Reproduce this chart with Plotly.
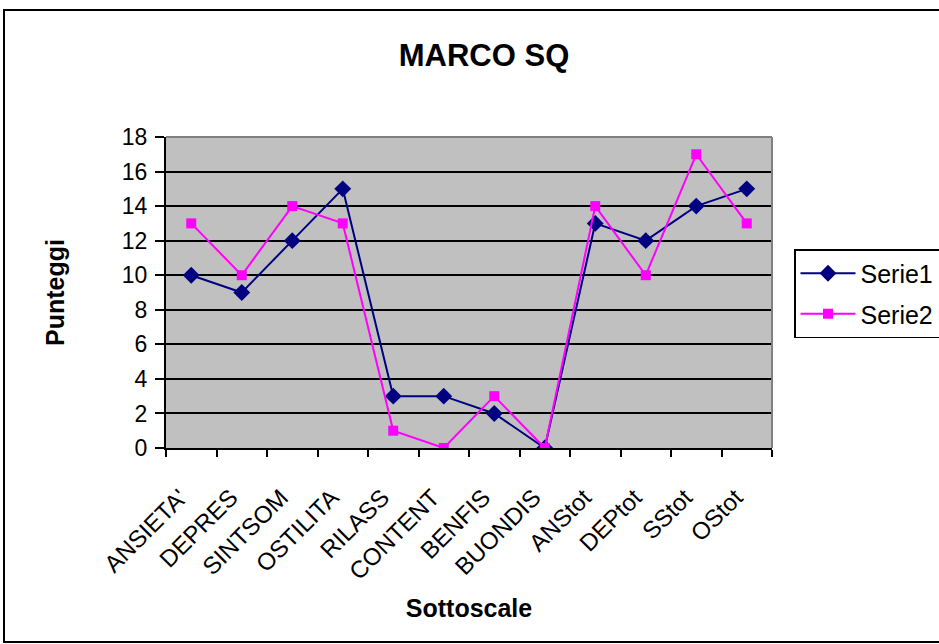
import plotly.graph_objects as go

# Subscale names and scores for the two series
categorie = ["ANSIETA'", "DEPRES", "SINTSOM", "OSTILITA", "RILASS", "CONTENT",
             "BENFIS", "BUONDIS", "ANStot", "DEPtot", "SStot", "OStot"]
serie1 = [10, 9, 12, 15, 3, 3, 2, 0, 13, 12, 14, 15]
serie2 = [13, 10, 14, 13, 1, 0, 3, 0, 14, 10, 17, 13]
y_ticks = [0, 2, 4, 6, 8, 10, 12, 14, 16, 18]

W, H = 939, 644
L, R, T, B = 166, 167, 137, 196
pw, ph = W - L - R, H - T - B

def px_x(x):
    return (x - L) / pw

def px_y(y):
    return (H - B - y) / ph

font = "Arial, Liberation Sans, sans-serif"

fig = go.Figure()
fig.add_trace(go.Scatter(
    x=categorie, y=serie1, name="Serie1", mode="lines+markers",
    legendgroup="s1",
    line=dict(color="#000080", width=2),
    marker=dict(symbol="diamond", size=13, color="#000080"),
))
fig.add_trace(go.Scatter(
    x=categorie, y=serie2, name="Serie2", mode="lines+markers",
    legendgroup="s2",
    line=dict(color="#FF00FF", width=2),
    marker=dict(symbol="square", size=10, color="#FF00FF"),
))

fig.update_layout(
    width=W, height=H,
    margin=dict(l=L, r=R, t=T, b=B, autoexpand=False),
    paper_bgcolor="white",
    plot_bgcolor="#C0C0C0",
    font=dict(family=font, size=23, color="black"),
    title=dict(text="<b>MARCO SQ</b>", x=484 / W, xanchor="center",
               y=1 - 55 / H, yanchor="middle",
               font=dict(family=font, size=31, color="black")),
    showlegend=True,
    legend=dict(x=px_x(794), xanchor="left", y=px_y(249), yanchor="top",
                bordercolor="black", borderwidth=1.5, bgcolor="white",
                itemwidth=55,
                font=dict(family=font, size=25), tracegroupgap=5),
    xaxis=dict(
        type="category", range=[-0.5, len(categorie) - 0.5],
        tickson="boundaries", ticks="outside", ticklen=7,
        tickcolor="black", tickwidth=1.5, tickangle=-45,
        ticklabelstandoff=24, ticklabelshift=-11,
        showline=True, linecolor="black", linewidth=2,
        showgrid=False, zeroline=False,
        tickfont=dict(family=font, size=24),
        title=dict(text="<b>Sottoscale</b>", standoff=16,
                   font=dict(family=font, size=25)),
    ),
    yaxis=dict(
        range=[0, 18], tickvals=y_ticks, ticks="outside", ticklen=9,
        tickcolor="black", tickwidth=1.5, ticklabelstandoff=3,
        showline=True, linecolor="black", linewidth=2,
        showgrid=True, gridcolor="black", gridwidth=1.5, zeroline=False,
        tickfont=dict(family=font, size=23),
        title=dict(text="<b>Punteggi</b>", standoff=50,
                   font=dict(family=font, size=25)),
    ),
    shapes=[
        # gray border on top and right of the plot area
        dict(type="line", xref="paper", yref="paper", x0=0, x1=1, y0=1, y1=1,
             line=dict(color="#808080", width=2)),
        dict(type="line", xref="paper", yref="paper", x0=1, x1=1, y0=0, y1=1,
             line=dict(color="#808080", width=2)),
        # outer chart frame
        dict(type="rect", xref="paper", yref="paper",
             x0=px_x(4), x1=px_x(960), y0=px_y(642), y1=px_y(10),
             line=dict(color="black", width=2), layer="below"),
    ],
)

fig.write_html("out.html")
